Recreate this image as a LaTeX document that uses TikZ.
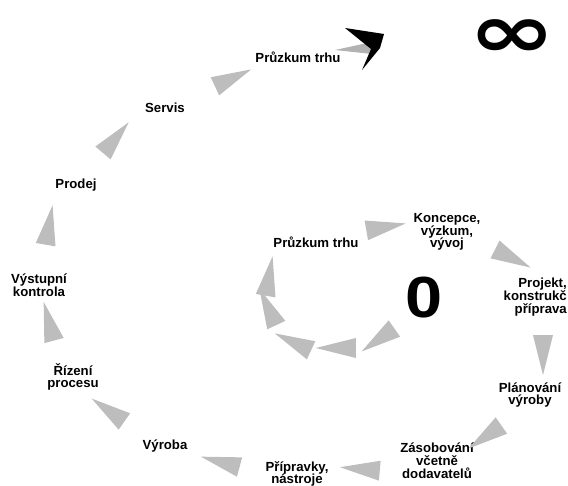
\documentclass[tikz,border=0pt]{standalone}
\usepackage{fontspec}
\setmainfont{Liberation Sans}
\newfontfamily\symfont{DejaVu Sans}
\usetikzlibrary{shapes.geometric}
\begin{document}
\begin{tikzpicture}[x=1pt,y=-1pt,
  lbl/.style={font=\bfseries\fontsize{13.2}{12.8}\selectfont, align=center, inner sep=0pt},
  tri/.style={isosceles triangle, isosceles triangle stretches, fill=black!26, draw=none,
     inner sep=0pt, minimum height=40pt, minimum width=20pt, anchor=center}]
\useasboundingbox (0,0) rectangle (568,486);
% labels
\node[lbl] (pt1) at (298,57) {Průzkum trhu};
\node[lbl] (serv) at (165,108) {Servis};
\node[lbl] (prod) at (76,185) {Prodej};
\node[lbl] (vyst) at (39,285) {Výstupní\\kontrola};
\node[lbl] (riz) at (73,377) {Řízení\\procesu};
\node[lbl] (vyr) at (165,446) {Výroba};
\node[lbl] (prip) at (297,474) {Přípravky,\\nástroje};
\node[lbl] (zas) at (437,461) {Zásobování\\včetně\\dodavatelů};
\node[lbl] (plan) at (530,395) {Plánování\\výroby};
\node[lbl, align=right, anchor=east] (proj) at (567,297) {Projekt,\\konstrukč\\příprava};
\node[lbl] (konc) at (447,232) {Koncepce,\\výzkum,\\vývoj};
\node[lbl] (pt0) at (316,242) {Průzkum trhu};
% big symbols
\node[font=\bfseries\fontsize{58}{58}\selectfont, inner sep=0pt] (zero) at (424,298) {\scalebox{1.15}[1]{0}};
\node[font=\symfont\bfseries\fontsize{60}{60}\selectfont, inner sep=0pt] (inf) at (512,39) {\scalebox{1.75}[1.25]{∞}};
% outer triangles
\node[tri, rotate=10] (t1) at (374,229) {};
\node[tri, rotate=-27] (t2) at (502,253) {};
\node[tri, rotate=-90] (t3) at (543,343) {};
\node[tri, rotate=215] (t4) at (495,430) {};
\node[tri, rotate=175] (t5) at (372,470) {};
\node[tri, rotate=165] (t6) at (232,465) {};
\node[tri, rotate=145] (t7) at (118,417) {};
\node[tri, rotate=105] (t8) at (52,333) {};
\node[tri, rotate=80] (t9) at (47,237) {};
\node[tri, rotate=50] (t10) at (108,147) {};
\node[tri, rotate=25] (t11) at (222,83) {};
% inner loop
\node[tri, rotate=215] (i1) at (388,333) {};
\node[tri, rotate=180] (i2) at (348,348) {};
\node[tri, rotate=155] (i3) at (304,347) {};
\node[tri, rotate=115] (i4) at (273,318) {};
\node[tri, rotate=80] (i5) at (267,288) {};
% top chevron with tail
\fill[black!30] (335,50) -- (372,42) -- (372,54) -- cycle;
\fill[black] (345,28) -- (384,34) -- (380,48) -- (362,70) -- (371,49) -- cycle;
\end{tikzpicture}
\end{document}
